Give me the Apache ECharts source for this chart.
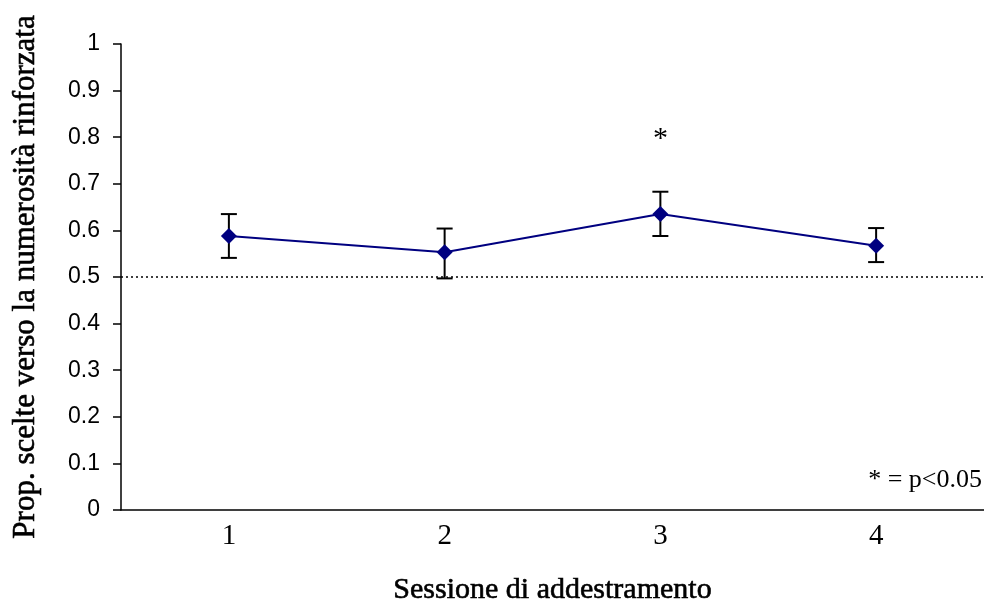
<!DOCTYPE html>
<html>
<head>
<meta charset="utf-8">
<script src="https://cdn.jsdelivr.net/npm/echarts@6/dist/echarts.min.js"></script>
<style>html,body{margin:0;padding:0;background:#fff}#c{width:984px;height:603px}</style>
</head>
<body>
<div id="c"></div>
<script>
var categories = ['1', '2', '3', '4'];
var means = [0.588, 0.553, 0.635, 0.567];
var errLow = [0.541, 0.497, 0.588, 0.532];
var errHigh = [0.635, 0.604, 0.683, 0.605];
var yTicks = [0, 0.1, 0.2, 0.3, 0.4, 0.5, 0.6, 0.7, 0.8, 0.9, 1];
var chanceLevel = 0.5;
var starCategory = '3';
var starValue = 0.803;

var chart = echarts.init(document.getElementById('c'));
var errData = categories.map(function (c, i) { return [i, errLow[i], errHigh[i]]; });

chart.setOption({
  animation: false,
  backgroundColor: '#fff',
  grid: { left: 121, right: 0, top: 44, bottom: 93, containLabel: false, outerBoundsMode: 'none' },
  xAxis: {
    type: 'category',
    data: categories,
    boundaryGap: true,
    axisLine: { lineStyle: { color: '#000', width: 1.5 } },
    axisTick: { show: false },
    axisLabel: { color: '#000', fontFamily: 'Liberation Serif', fontSize: 29, margin: 12 },
    name: 'Sessione di addestramento',
    nameLocation: 'middle',
    nameGap: 65,
    nameTextStyle: { color: '#000', fontFamily: 'Liberation Serif', fontSize: 30, textBorderColor: '#000', textBorderWidth: 0.6 },
    splitLine: { show: false }
  },
  yAxis: {
    type: 'value',
    min: yTicks[0],
    max: yTicks[yTicks.length - 1],
    interval: 0.1,
    axisLine: { show: true, lineStyle: { color: '#000', width: 1.5 } },
    axisTick: { show: true, inside: false, length: 8, lineStyle: { color: '#000', width: 1.5 } },
    axisLabel: {
      color: '#000', fontFamily: 'Liberation Sans', fontSize: 23, margin: 21,
      formatter: function (v) { return String(Math.round(v * 10) / 10); }
    },
    splitLine: { show: false },
    name: 'Prop. scelte verso la numerosità rinforzata',
    nameLocation: 'middle',
    nameGap: 80,
    nameTextStyle: { color: '#000', fontFamily: 'Liberation Serif', fontSize: 31, textBorderColor: '#000', textBorderWidth: 0.6 }
  },
  series: [
    {
      type: 'line',
      data: means,
      symbol: 'diamond',
      symbolSize: 16,
      lineStyle: { color: '#000080', width: 2 },
      itemStyle: { color: '#000080' },
      z: 3,
      markLine: {
        silent: true,
        symbol: 'none',
        label: { show: false },
        lineStyle: { color: '#000', type: [2, 3], width: 1.5 },
        data: [{ yAxis: chanceLevel }]
      },
      markPoint: {
        symbol: 'circle',
        symbolSize: 0,
        label: { show: true, formatter: '*', color: '#000', fontFamily: 'Liberation Serif', fontSize: 30, offset: [0, 3] },
        data: [{ coord: [starCategory, starValue] }]
      }
    },
    {
      type: 'custom',
      data: errData,
      z: 2,
      renderItem: function (params, api) {
        var x = api.value(0);
        var lo = api.coord([x, api.value(1)]);
        var hi = api.coord([x, api.value(2)]);
        var hw = 8;
        var st = { stroke: '#000', lineWidth: 2 };
        return {
          type: 'group',
          children: [
            { type: 'line', shape: { x1: lo[0], y1: lo[1], x2: hi[0], y2: hi[1] }, style: st },
            { type: 'line', shape: { x1: lo[0] - hw, y1: lo[1], x2: lo[0] + hw, y2: lo[1] }, style: st },
            { type: 'line', shape: { x1: hi[0] - hw, y1: hi[1], x2: hi[0] + hw, y2: hi[1] }, style: st }
          ]
        };
      }
    }
  ],
  graphic: [
    {
      type: 'text',
      right: 2,
      top: 467,
      style: { text: '* = p<0.05', fill: '#000', font: '26px "Liberation Serif"' }
    }
  ]
});
</script>
</body>
</html>
